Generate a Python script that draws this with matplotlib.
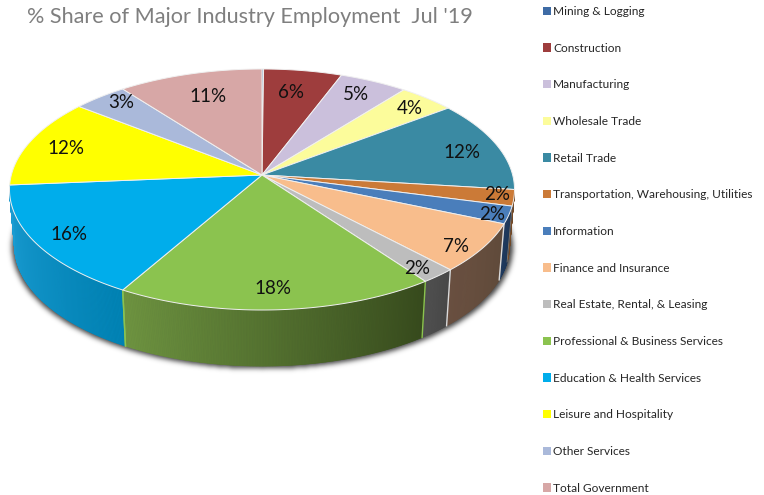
import numpy as np
import matplotlib
matplotlib.use("Agg")
import matplotlib.pyplot as plt
from matplotlib.patches import Patch, Polygon
from matplotlib.collections import PolyCollection
from matplotlib.colors import to_rgb

plt.rcParams['font.family'] = ['Lato', 'DejaVu Sans']

categories = ["Mining & Logging", "Construction", "Manufacturing", "Wholesale Trade", "Retail Trade",
              "Transportation, Warehousing, Utilities", "Information", "Finance and Insurance",
              "Real Estate, Rental, & Leasing", "Professional & Business Services",
              "Education & Health Services", "Leisure and Hospitality", "Other Services", "Total Government"]
values = [0.1, 5.0, 4.4, 3.7, 11.8, 2.2, 2.4, 7.0, 2.2, 20.5, 16.3, 11.5, 3.6, 9.3]
labels = ["", "6%", "5%", "4%", "12%", "2%", "2%", "7%", "2%", "18%", "16%", "12%", "3%", "11%"]
colors = ["#3E6BA5", "#9E3D3D", "#CBC0DC", "#FCFC9B", "#3A8AA3", "#CB7A37", "#4A7EBB", "#F8BD8C",
          "#BDBDBD", "#8BC34F", "#00ADEB", "#FFFF00", "#AAB9DA", "#D7A7A6"]
label_x = [0, 291, 356, 410, 462, 497, 492, 456, 417, 273, 69, 66, 121, 208]
label_y = [0, 93, 95, 108, 153, 194, 215, 246, 269, 289, 234, 149, 103, 96]
wall_left = {5: "#7A4E28", 6: "#1F3A5F", 7: "#6A5040", 8: "#505050", 9: "#6E9440", 10: "#1B9CD2"}
wall_right = {5: "#6A4526", 6: "#1C3555", 7: "#5F4A3A", 8: "#484848", 9: "#364A1C", 10: "#0082B4"}
title = "% Share of Major Industry Employment  Jul '19"

W, H = 764, 495
AX, AY = 262, 175            # apex where the slices meet (perspective)
CX, CY, RX, RY, DEPTH = 262, 189.5, 252.5, 120.5, 56
NARROW = 0.98                # lower rim is a little narrower than the top rim

fig = plt.figure(figsize=(W / 100, H / 100), dpi=100)
ax = fig.add_axes([0, 0, 1, 1])
ax.axis("off")

# soft shadow under the solid
yy, xx = np.mgrid[0:H, 0:W]
mask = (((xx - CX) / (RX * NARROW + 3)) ** 2 + ((yy - CY - DEPTH - 1) / (RY + 1)) ** 2 <= 1).astype(float)
mask[:195] = 0
fy = np.fft.fftfreq(H)[:, None]
fx = np.fft.fftfreq(W)[None, :]
blur = np.fft.ifft2(np.fft.fft2(mask) * np.exp(-2 * (np.pi * 2.6) ** 2 * (fx ** 2 + fy ** 2))).real
shadow = np.zeros((H, W, 4))
shadow[..., 3] = np.clip(blur, 0, 1) * 0.75
ax.imshow(shadow, extent=(0, W, H, 0), zorder=1, aspect="auto")
ax.set_xlim(0, W)
ax.set_ylim(H, 0)

edges = np.concatenate([[0], np.cumsum(values)]) / np.sum(values) * 360.0


def rim(t):
    r = np.radians(t)
    return CX + RX * np.sin(r), CY - RY * np.cos(r)


def low(x, y):
    return CX + (x - CX) * NARROW, y + DEPTH


# side walls: narrow strips coloured along the sweep
for i in wall_left:
    t0, t1 = max(edges[i], 90), min(edges[i + 1], 272)
    ts = np.linspace(t0, t1, max(int((t1 - t0) * 3), 2))
    a, b = np.array(to_rgb(wall_left[i])), np.array(to_rgb(wall_right[i]))
    polys, cols = [], []
    for k in range(len(ts) - 1):
        x0, y0 = rim(ts[k])
        x1, y1 = rim(ts[k + 1])
        polys.append([(x0, y0), (x1, y1), low(x1, y1), low(x0, y0)])
        f = (k + .5) / (len(ts) - 1)
        cols.append(b * (1 - f) + a * f)
    ax.add_collection(PolyCollection(polys, facecolors=cols, edgecolors=cols, linewidths=0.6, zorder=2))
    x, y = rim(t0)
    lx, ly = low(x, y)
    if i in (7, 8, 9, 10):
        edge = "#DADADA" if i in (7, 8) else "#8BC34F"
        ax.plot([x, lx], [y, ly], color=edge, lw=1.0, zorder=3)
    if i == 6:
        ax.plot([x, lx], [y, ly], color="#8A7A6A", lw=0.6, zorder=3)
x, y = rim(edges[10])
lx, ly = low(x, y)
ax.plot([x, lx], [y, ly], color="#8BC34F", lw=1.0, zorder=3)

# top face: slices run from the apex to the flattened rim
handles = []
for i, (c, v) in enumerate(zip(colors, values)):
    ts = np.linspace(edges[i], edges[i + 1], max(int(edges[i + 1] - edges[i]) * 2, 2))
    px, py = rim(ts)
    pts = np.column_stack([np.r_[AX, px], np.r_[AY, py]])
    ax.add_patch(Polygon(pts, closed=True, facecolor=c, edgecolor="#F0F0F0", linewidth=0.7, zorder=4))
    handles.append(Patch(facecolor=c, edgecolor="none", label=categories[i]))

for lb, x, y in zip(labels, label_x, label_y):
    if lb:
        ax.text(x, y, lb, fontsize=13.5, color="#111111", ha="center", va="center", zorder=6)

ax.text(27, 17, title, fontsize=15.6, color="#7F7F7F", ha="left", va="center", zorder=6)

leg = ax.legend(handles=handles, loc="upper left", bbox_to_anchor=(539 / W, 1 - 2 / H),
                bbox_transform=fig.transFigure, frameon=False, fontsize=8.55, labelspacing=2.16,
                handlelength=0.7, handleheight=0.7, handletextpad=0.15, borderaxespad=0, borderpad=0.35)
for t in leg.get_texts():
    t.set_color("#262626")

fig.savefig("out.png", dpi=100)
